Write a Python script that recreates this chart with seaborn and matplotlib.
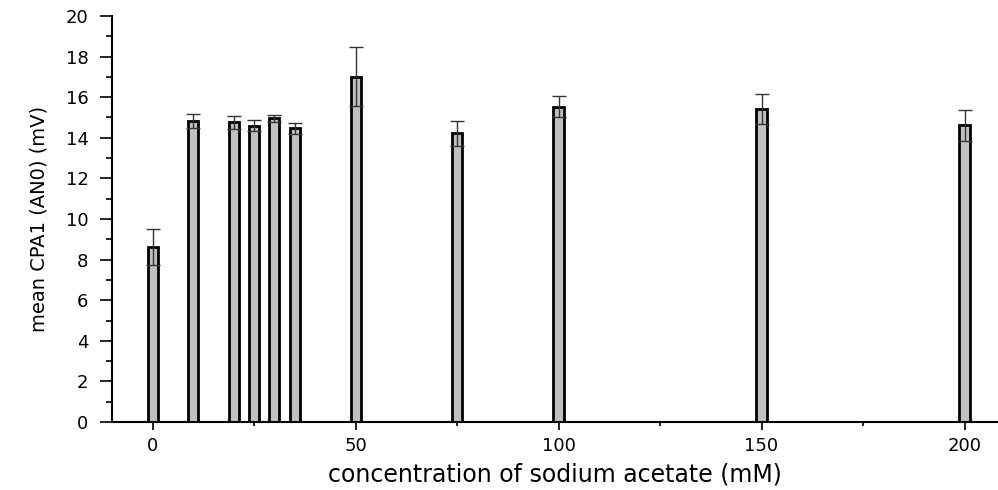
import matplotlib
matplotlib.use("Agg")
import matplotlib.pyplot as plt
import seaborn as sns
import pandas as pd
from matplotlib.ticker import MultipleLocator

concentration = [0, 10, 20, 25, 30, 35, 50, 75, 100, 150, 200]
mean_cpa1 = [8.62, 14.81, 14.76, 14.60, 14.96, 14.46, 17.01, 14.22, 15.53, 15.43, 14.61]
error = [0.87, 0.35, 0.31, 0.27, 0.18, 0.25, 1.44, 0.60, 0.51, 0.74, 0.78]

df = pd.DataFrame({"conc": concentration, "mean": mean_cpa1})

sns.set_style("ticks")
plt.rcParams['font.family'] = ['DejaVu Sans']
plt.rcParams['text.color'] = 'black'
plt.rcParams['axes.labelcolor'] = 'black'
plt.rcParams['xtick.color'] = 'black'
plt.rcParams['ytick.color'] = 'black'

fig = plt.figure(figsize=(9.98, 4.9), dpi=100)
ax = fig.add_axes([112 / 998, 68 / 490, (997 - 112) / 998, 406 / 490])

sns.barplot(data=df, x="conc", y="mean", native_scale=True, width=0.5,
            color="#c0c0c0", edgecolor="black", linewidth=2.0, saturation=1,
            errorbar=None, ax=ax)
ax.errorbar(concentration, mean_cpa1, yerr=error, fmt="none", ecolor="#333333",
            elinewidth=1.0, capsize=5, capthick=1.0, zorder=5)

ax.set_xlim(-10, 208)
ax.set_ylim(0, 20)
ax.xaxis.set_major_locator(MultipleLocator(50))
ax.xaxis.set_minor_locator(MultipleLocator(25))
ax.yaxis.set_major_locator(MultipleLocator(2))
ax.yaxis.set_minor_locator(MultipleLocator(1))
ax.tick_params(axis="y", which="major", length=9, width=1.2, labelsize=13, pad=8)
ax.tick_params(axis="y", which="minor", length=4, width=1.2)
ax.tick_params(axis="x", which="major", length=6, width=1.2, labelsize=13, pad=5)
ax.tick_params(axis="x", which="minor", length=3, width=1.2)

for s in ["top", "right"]:
    ax.spines[s].set_visible(False)
for s in ["left", "bottom"]:
    ax.spines[s].set_linewidth(1.5)
    ax.spines[s].set_color("black")

ax.set_xlabel("concentration of sodium acetate (mM)", fontsize=17, labelpad=5)
ax.set_ylabel("mean CPA1 (AN0) (mV)", fontsize=14, labelpad=12)

fig.savefig("out.png", dpi=100)
